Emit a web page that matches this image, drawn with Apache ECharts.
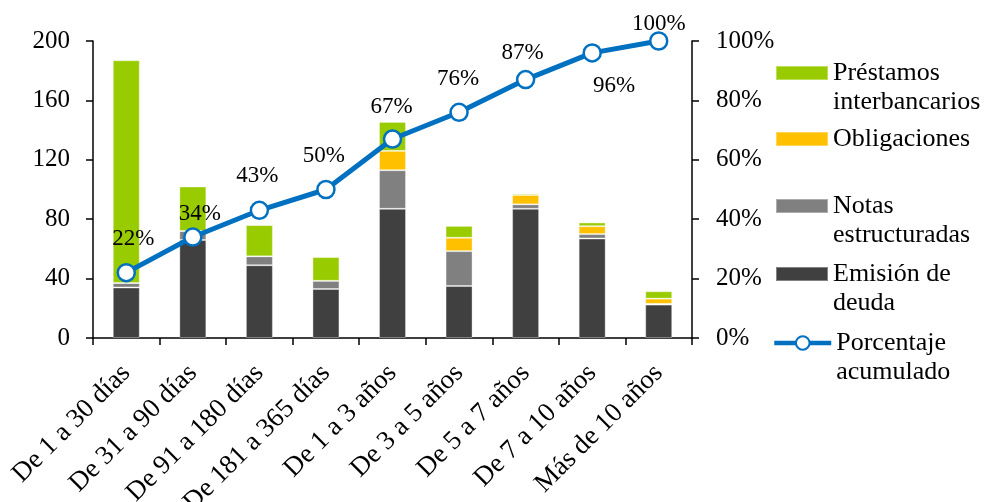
<!DOCTYPE html>
<html>
<head>
<meta charset="utf-8">
<script src="https://cdn.jsdelivr.net/npm/echarts@6/dist/echarts.min.js"></script>
<style>html,body{margin:0;padding:0;background:#fff}#c{width:989px;height:502px}</style>
</head>
<body>
<div id="c"></div>
<script>
const categories = ['De 1 a 30 días','De 31 a 90 días','De 91 a 180 días','De 181 a 365 días','De 1 a 3 años','De 3 a 5 años','De 5 a 7 años','De 7 a 10 años','Más de 10 años'];
const emisionDeuda = [34, 66, 49, 33, 87, 35, 87, 67, 22.5];
const notasEstructuradas = [3, 6, 6, 5.5, 26, 23.5, 3, 3, 0.5];
const obligaciones = [0, 0, 0, 0, 13, 9, 6.3, 5.3, 3.5];
const prestamosInterbancarios = [150, 30, 21, 16, 19.5, 8, 1, 2.5, 5];
const porcentajeAcumulado = [22, 34, 43, 50, 67, 76, 87, 96, 100];
const leftTicks = {min: 0, max: 200, interval: 40};
const rightTicks = {min: 0, max: 100, interval: 20};

const labelOffsets = [[7,-34],[7,-23],[-2,-34],[-2,-34],[-1,-32],[-1,-33],[-3,-27],[22,33],[0,-17]];
const FONT = "'Liberation Serif','Times New Roman',serif";

const chart = echarts.init(document.getElementById('c'), null, {renderer: 'canvas'});

function barSeries(name, data, color) {
  return {
    name: name, type: 'bar', stack: 'total', barWidth: 27,
    itemStyle: {color: color, borderColor: 'rgba(255,255,255,0.35)', borderWidth: 1},
    data: data
  };
}

const legendLines = {
  'Préstamos interbancarios': '\nPréstamos\ninterbancarios',
  'Notas estructuradas': '\nNotas\nestructuradas',
  'Emisión de deuda': '\nEmisión de\ndeuda',
  'Porcentaje acumulado': '\nPorcentaje\nacumulado'
};

function legendItem(name, iconCenter, twoLines, isLine) {
  const lh = 29;
  return {
    data: [name],
    orient: 'vertical',
    left: isLine ? 772 : 775,
    top: twoLines ? iconCenter - 1.5 * lh : iconCenter - lh / 2,
    padding: 0,
    itemWidth: isLine ? 57 : 52,
    itemHeight: isLine ? 17 : 14,
    itemGap: 0,
    textGap: isLine ? 1 : 5,
    icon: isLine ? undefined : 'rect',
    lineStyle: isLine ? {width: 4.5, color: '#0070C0'} : undefined,
    textStyle: {fontFamily: FONT, fontSize: 26, color: '#000', lineHeight: lh},
    formatter: function (n) { return legendLines[n] || n; }
  };
}

const option = {
  animation: false,
  backgroundColor: '#fff',
  textStyle: {fontFamily: FONT},
  grid: {left: 93, right: 297, top: 41, bottom: 164, containLabel: false, outerBoundsMode: 'none'},
  legend: [
    legendItem('Préstamos interbancarios', 73, true, false),
    legendItem('Obligaciones', 139, false, false),
    legendItem('Notas estructuradas', 206, true, false),
    legendItem('Emisión de deuda', 274, true, false),
    legendItem('Porcentaje acumulado', 343, true, true)
  ],
  xAxis: {
    type: 'category',
    data: categories,
    axisLine: {lineStyle: {color: '#000', width: 1.5}},
    axisTick: {show: true, length: 7, lineStyle: {color: '#000', width: 1.5}},
    axisLabel: {rotate: 45, fontFamily: FONT, fontSize: 27, color: '#000', margin: 31, interval: 0}
  },
  yAxis: [
    {
      type: 'value', min: leftTicks.min, max: leftTicks.max, interval: leftTicks.interval,
      axisLine: {show: true, lineStyle: {color: '#000', width: 1.5}},
      axisTick: {show: true, length: 7, lineStyle: {color: '#000', width: 1.5}},
      splitLine: {show: false},
      axisLabel: {fontFamily: FONT, fontSize: 25, color: '#000', margin: 23}
    },
    {
      type: 'value', min: rightTicks.min, max: rightTicks.max, interval: rightTicks.interval,
      position: 'right',
      axisLine: {show: true, lineStyle: {color: '#000', width: 1.5}},
      axisTick: {show: true, length: 7, lineStyle: {color: '#000', width: 1.5}},
      splitLine: {show: false},
      axisLabel: {fontFamily: FONT, fontSize: 25, color: '#000', margin: 24, formatter: '{value}%'}
    }
  ],
  series: [
    barSeries('Emisión de deuda', emisionDeuda, '#404040'),
    barSeries('Notas estructuradas', notasEstructuradas, '#808080'),
    barSeries('Obligaciones', obligaciones, '#FFC000'),
    barSeries('Préstamos interbancarios', prestamosInterbancarios, '#99CC00'),
    {
      name: 'Porcentaje acumulado', type: 'line', yAxisIndex: 1, z: 10,
      symbol: 'circle', symbolSize: 17,
      itemStyle: {color: '#fff', borderColor: '#0070C0', borderWidth: 2.5},
      lineStyle: {color: '#0070C0', width: 5},
      label: {show: true, position: 'inside', fontFamily: FONT, fontSize: 23, color: '#000', formatter: '{c}%'},
      data: porcentajeAcumulado.map(function (v, i) {
        return {value: v, label: {offset: labelOffsets[i]}};
      })
    }
  ]
};
chart.setOption(option);
</script>
</body>
</html>
